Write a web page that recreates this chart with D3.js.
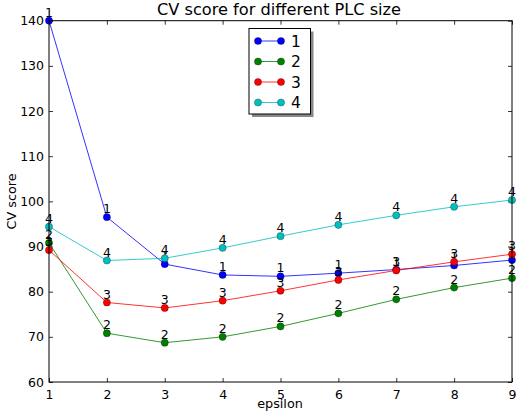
<!DOCTYPE html>
<html>
<head>
<meta charset="utf-8">
<script src="https://cdn.jsdelivr.net/npm/d3@7"></script>
<style>
  html, body { margin: 0; padding: 0; background: #fff; }
  svg { display: block; font-family: "DejaVu Sans", sans-serif; }
</style>
</head>
<body>
<svg id="chart" width="516" height="415"></svg>
<script>
// PLC sizes plotted along the epsilon axis
const epsilon = [1, 2, 3, 4, 5, 6, 7, 8, 9];
const seriesNames = ["1", "2", "3", "4"];
const colors = ["#0000ff", "#008000", "#ff0000", "#00bfbf"];

// CV score per PLC size
const score1 = [140.0, 96.5, 86.1, 83.7, 83.4, 84.1, 84.9, 85.8, 87.0];
const score2 = [90.8, 70.8, 68.7, 70.0, 72.3, 75.2, 78.3, 80.9, 83.0];
const score3 = [89.2, 77.6, 76.4, 78.0, 80.2, 82.6, 84.7, 86.6, 88.3];
const score4 = [94.4, 86.9, 87.4, 89.7, 92.3, 94.8, 96.9, 98.8, 100.3];

const xTicks = [1, 2, 3, 4, 5, 6, 7, 8, 9];
const yTicks = [60, 70, 80, 90, 100, 110, 120, 130, 140];

const allScores = [score1, score2, score3, score4];

const svg = d3.select("#chart");
const L = 49, R = 512, T = 20.7, B = 382;

const x = d3.scaleLinear().domain([1, 9]).range([L, R]);
const y = d3.scaleLinear().domain([60, 140]).range([B, T]);

// Title and axis labels
svg.append("text").attr("x", 279).attr("y", 15)
  .attr("text-anchor", "middle").attr("font-size", 16.2).attr("fill", "#000")
  .text("CV score for different PLC size");
svg.append("text").attr("x", 280).attr("y", 408)
  .attr("text-anchor", "middle").attr("font-size", 12.8).attr("fill", "#000")
  .text("epsilon");
svg.append("text").attr("transform", `translate(16,${(T + B) / 2}) rotate(-90)`)
  .attr("text-anchor", "middle").attr("font-size", 12.8).attr("fill", "#000")
  .text("CV score");

// Axes with inward ticks, mirrored on top and right
const tickStyle = g => {
  g.select(".domain").remove();
  g.selectAll("line").attr("stroke", "#000").attr("stroke-width", 0.8);
  g.selectAll("text").attr("font-size", 12.5).attr("fill", "#000")
    .attr("font-family", "DejaVu Sans, sans-serif");
};
svg.append("g").attr("transform", `translate(0,${B})`)
  .call(d3.axisBottom(x).tickValues(xTicks).tickFormat(d3.format("d")).tickSizeInner(-4).tickPadding(8))
  .call(tickStyle);
svg.append("g").attr("transform", `translate(0,${T})`)
  .call(d3.axisTop(x).tickValues(xTicks).tickFormat("").tickSizeInner(-4))
  .call(tickStyle);
svg.append("g").attr("transform", `translate(${L},0)`)
  .call(d3.axisLeft(y).tickValues(yTicks).tickFormat(d3.format("d")).tickSizeInner(-4).tickPadding(5))
  .call(tickStyle);
svg.append("g").attr("transform", `translate(${R},0)`)
  .call(d3.axisRight(y).tickValues(yTicks).tickFormat("").tickSizeInner(-4))
  .call(tickStyle);

// Series lines, markers and point labels
const line = d3.line().x((d, i) => x(epsilon[i])).y(d => y(d));
allScores.forEach((vals, s) => {
  const g = svg.append("g");
  g.append("path").datum(vals).attr("d", line)
    .attr("fill", "none").attr("stroke", colors[s]).attr("stroke-width", 1)
    .attr("stroke-opacity", 0.8);
});
allScores.forEach((vals, s) => {
  const g = svg.append("g");
  g.selectAll("circle").data(vals).join("circle")
    .attr("cx", (d, i) => x(epsilon[i])).attr("cy", d => y(d)).attr("r", 3.6)
    .attr("fill", colors[s]).attr("stroke", "#000").attr("stroke-width", 0.5)
    .attr("stroke-opacity", 0.6);
  g.selectAll("text").data(vals).join("text")
    .attr("x", (d, i) => x(epsilon[i])).attr("y", d => y(d) - 4)
    .attr("text-anchor", "middle").attr("font-size", 12.5).attr("fill", "#000")
    .text(seriesNames[s]);
});

// Frame
svg.append("rect").attr("x", L).attr("y", T).attr("width", R - L).attr("height", B - T)
  .attr("fill", "none").attr("stroke", "#000").attr("stroke-width", 1);

// Legend with drop shadow
const lx = 249, ly = 28.5, lw = 61.5, lh = 85.5;
svg.append("rect").attr("x", lx + 3).attr("y", ly + 3).attr("width", lw).attr("height", lh)
  .attr("fill", "#888");
svg.append("rect").attr("x", lx).attr("y", ly).attr("width", lw).attr("height", lh)
  .attr("fill", "#fff").attr("stroke", "#000").attr("stroke-width", 1);
seriesNames.forEach((name, s) => {
  const ry = ly + 12.5 + s * 20.5;
  svg.append("line").attr("x1", lx + 9).attr("x2", lx + 32).attr("y1", ry).attr("y2", ry)
    .attr("stroke", colors[s]).attr("stroke-width", 1).attr("stroke-opacity", 0.8);
  [lx + 9, lx + 32].forEach(cx => svg.append("circle").attr("cx", cx).attr("cy", ry).attr("r", 3.6)
    .attr("fill", colors[s]).attr("stroke", "#000").attr("stroke-width", 0.5).attr("stroke-opacity", 0.6));
  svg.append("text").attr("x", lx + 42).attr("y", ry + 5.5).attr("font-size", 15.5).attr("fill", "#000")
    .text(name);
});
</script>
</body>
</html>
